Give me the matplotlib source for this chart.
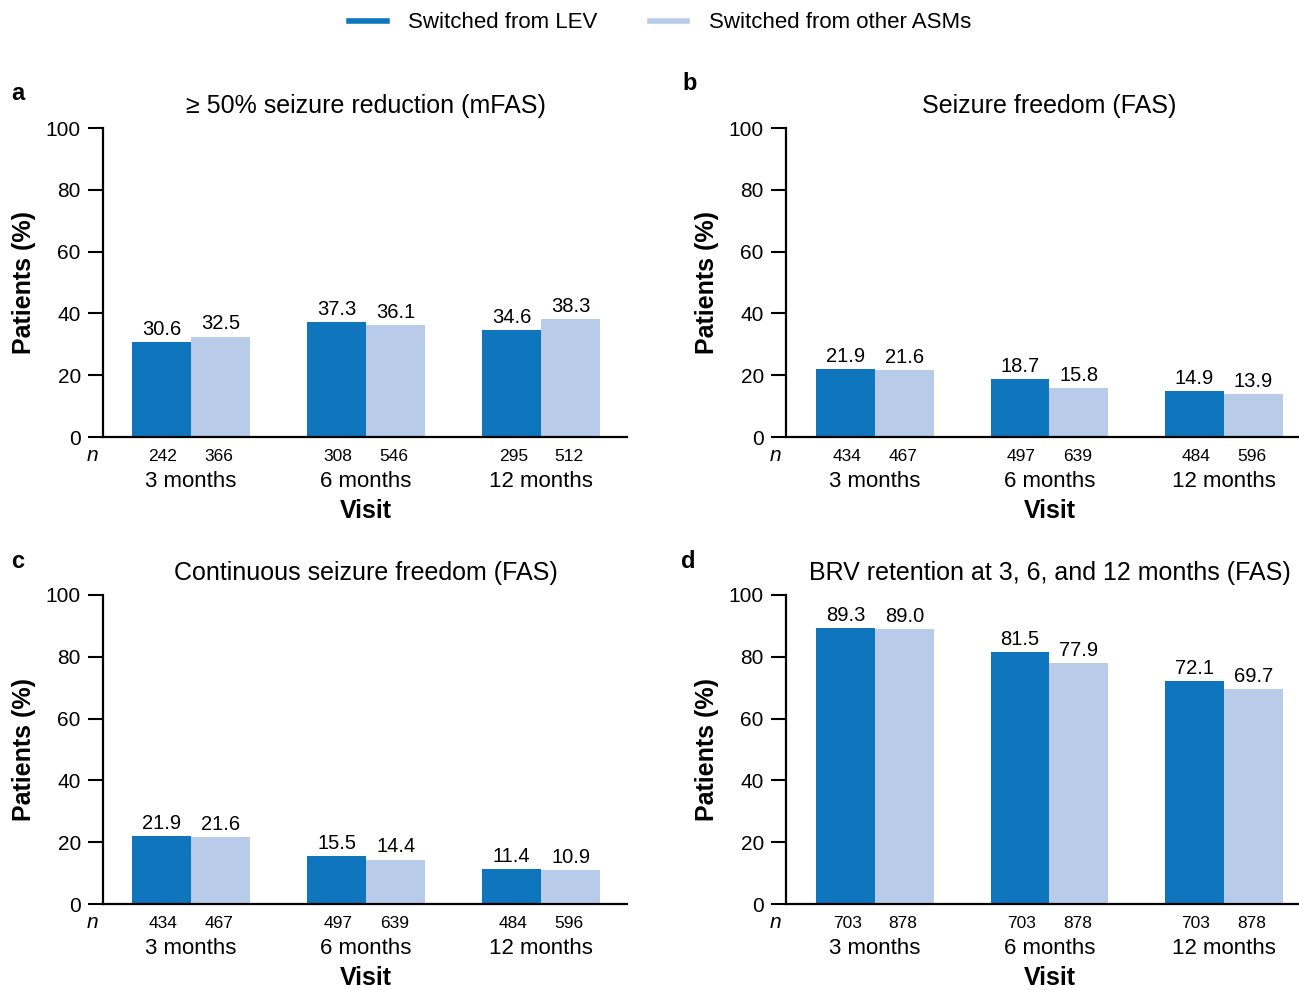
import matplotlib
matplotlib.use("Agg")
import matplotlib.pyplot as plt
from matplotlib.lines import Line2D
from matplotlib.transforms import blended_transform_factory, ScaledTranslation
import numpy as np

plt.rcParams['font.family'] = ['Liberation Sans', 'DejaVu Sans']

visits = ["3 months", "6 months", "12 months"]
series_names = ["Switched from LEV", "Switched from other ASMs"]
colors = ["#0F75BC", "#B8CCEA"]
yticks = [0, 20, 40, 60, 80, 100]

panel_letters = ["a", "b", "c", "d"]
titles = [
    "\u2265 50% seizure reduction (mFAS)",
    "Seizure freedom (FAS)",
    "Continuous seizure freedom (FAS)",
    "BRV retention at 3, 6, and 12 months (FAS)",
]

lev_a = [30.6, 37.3, 34.6]
oth_a = [32.5, 36.1, 38.3]
n_lev_a = [242, 308, 295]
n_oth_a = [366, 546, 512]

lev_b = [21.9, 18.7, 14.9]
oth_b = [21.6, 15.8, 13.9]
n_lev_b = [434, 497, 484]
n_oth_b = [467, 639, 596]

lev_c = [21.9, 15.5, 11.4]
oth_c = [21.6, 14.4, 10.9]
n_lev_c = [434, 497, 484]
n_oth_c = [467, 639, 596]

lev_d = [89.3, 81.5, 72.1]
oth_d = [89.0, 77.9, 69.7]
n_lev_d = [703, 703, 703]
n_oth_d = [878, 878, 878]

panels = [
    (lev_a, oth_a, n_lev_a, n_oth_a),
    (lev_b, oth_b, n_lev_b, n_oth_b),
    (lev_c, oth_c, n_lev_c, n_oth_c),
    (lev_d, oth_d, n_lev_d, n_oth_d),
]

W, H = 1299, 990
fig = plt.figure(figsize=(W / 100, H / 100), dpi=100)

# axes boxes in pixels: (left, top, right, bottom)
boxes = [
    (103, 128, 627, 437),
    (786, 128, 1299, 437),
    (103, 595, 627, 904),
    (786, 595, 1299, 904),
]
xlims = [(-0.503, 2.49), (-0.51, 2.43), (-0.503, 2.49), (-0.51, 2.43)]
letter_pos = [(18, 94), (690, 84), (18, 561), (688, 561)]
ylabel_x = [24, 707, 24, 707]

bw = 0.337
for i, (lev, oth, nl, no) in enumerate(panels):
    l, t, r, b = boxes[i]
    ax = fig.add_axes([l / W, 1 - b / H, (r - l) / W, (b - t) / H])
    x = np.arange(len(visits))
    b1 = ax.bar(x - bw / 2, lev, bw, color=colors[0], linewidth=0)
    b2 = ax.bar(x + bw / 2, oth, bw, color=colors[1], linewidth=0)
    for bars, vals in ((b1, lev), (b2, oth)):
        for rect, v in zip(bars, vals):
            ax.text(rect.get_x() + rect.get_width() / 2, v + 1.0, f"{v:.1f}",
                    ha="center", va="bottom", fontsize=14.5)
    ax.set_ylim(0, 100)
    ax.set_xlim(*xlims[i])
    ax.set_yticks(yticks)
    ax.set_xticks([])
    ax.tick_params(axis="y", labelsize=15, length=11, width=1.5, pad=5)
    for s in ("top", "right"):
        ax.spines[s].set_visible(False)
    for s in ("left", "bottom"):
        ax.spines[s].set_linewidth(1.6)

    trans = blended_transform_factory(ax.transData, ax.transAxes)
    pix = lambda dy: trans + ScaledTranslation(0, dy / 100, fig.dpi_scale_trans)
    for j in range(len(visits)):
        ax.text(x[j] - 0.16, 0, str(nl[j]), transform=pix(-19), ha="center",
                va="center", fontsize=12.5)
        ax.text(x[j] + 0.16, 0, str(no[j]), transform=pix(-19), ha="center",
                va="center", fontsize=12.5)
        ax.text(x[j], 0, visits[j], transform=pix(-44), ha="center",
                va="center", fontsize=16)
    ax.text(1, 0, "Visit", transform=pix(-74), ha="center", va="center",
            fontsize=18, fontweight="bold")
    ax.text(0, 0, "n", transform=ax.transAxes + ScaledTranslation(-0.11, -0.18, fig.dpi_scale_trans),
            ha="center", va="center", fontsize=15, style="italic")
    ax.text(1, 1, titles[i], transform=trans + ScaledTranslation(0, 0.22, fig.dpi_scale_trans),
            ha="center", va="center", fontsize=18)

    fig.text(letter_pos[i][0] / W, 1 - letter_pos[i][1] / H, panel_letters[i],
             ha="center", va="center", fontsize=17, fontweight="bold")
    fig.text(ylabel_x[i] / W, 1 - ((t + b) / 2) / H, "Patients (%)", rotation=90,
             ha="center", va="center", fontsize=18, fontweight="bold")

handles = [Line2D([], [], color=c, linewidth=4) for c in colors]
fig.legend(handles, series_names, loc="center", bbox_to_anchor=(660 / W, 1 - 23 / H),
           ncol=2, frameon=False, fontsize=16, handlelength=1.7,
           handletextpad=0.95, columnspacing=2.35)

fig.savefig("out.png", dpi=100)
